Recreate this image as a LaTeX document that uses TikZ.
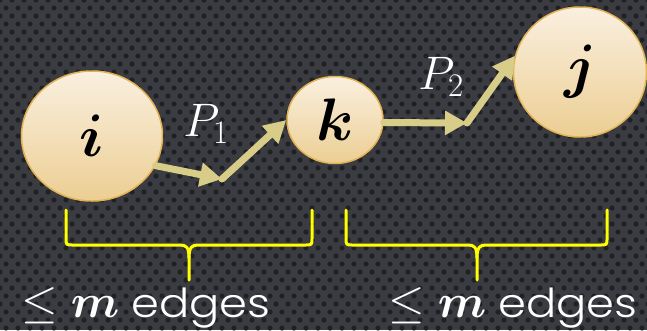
\RequirePackage{fix-cm}
\documentclass[tikz,border=0pt]{standalone}
\usepackage{fontspec}
\setsansfont{Poppins}[UprightFont={* Light},FakeStretch=1.12]
\usepackage{amsmath,bm}
\usetikzlibrary{arrows.meta,shapes.geometric}

\definecolor{bgc}{HTML}{3A3C41}
\definecolor{dotc}{HTML}{1F2124}
\definecolor{nodetop}{HTML}{FAF0E0}
\definecolor{nodebot}{HTML}{ECCE93}
\definecolor{nodeedge}{HTML}{E2B354}
\definecolor{arrc}{HTML}{D7CD88}
\definecolor{bracec}{HTML}{FFFF00}

\tikzset{
 vert/.style={ellipse, draw=nodeedge, line width=1.5pt, top color=nodetop, bottom color=nodebot, inner sep=0pt, font=\fontsize{60}{60}\selectfont},
 arr/.style={draw=arrc, line width=7pt, line cap=round, -{Triangle[length=22pt,width=23pt]}},
 brc/.style={draw=bracec, line width=3pt, line join=round, line cap=round},
 lab/.style={text=white, inner sep=0pt, font=\fontsize{47}{47}\selectfont},
 cnt/.style={text=white, font=\sffamily\fontsize{40}{40}\selectfont, inner sep=0pt}
}
\newcommand{\mathpart}{{\fontsize{47}{47}\selectfont$\leq\bm{m}$}}

\begin{document}
\begin{tikzpicture}[x=1pt,y=-1pt]
\useasboundingbox (0,0) rectangle (647,330);
\fill[bgc] (0,0) rectangle (647,330);
\foreach \r in {0,...,42} {
  \foreach \c in {0,...,54} {
    \fill[dotc] ({\c*12 + mod(\r,2)*6}, {\r*8}) circle[radius=2.6pt];
  }
}

\node[vert, minimum width=141pt, minimum height=130pt] (i) at (92,136) {$\bm{i}$};
\node[vert, minimum width=96pt, minimum height=87pt] (k) at (335,120) {$\bm{k}$};
\node[vert, minimum width=133pt, minimum height=130pt] (j) at (580,72) {$\bm{j}$};

\node[lab] (p1) at (206,124) {$P_1$};
\node[lab] (p2) at (441,77) {$P_2$};

\coordinate (e1) at (222,179);
\coordinate (e2) at (467,123);
\draw[arr] (i.-25) -- (e1);
\draw[arr] (e1) -- (k.west);
\draw[arr] (k.-3) -- (e2);
\draw[arr] (e2) -- (j.166);

% braces
\draw[brc] (66,210) -- (66,238) .. controls (66,245) .. (73,245) -- (180,245)
  .. controls (186,245) and (189,247) .. (189,258) -- (189,280);
\draw[brc] (189,258) .. controls (189,247) and (192,245) .. (198,245) -- (305,245)
  .. controls (312,245) .. (312,238) -- (312,210);
\draw[brc] (346,210) -- (346,238) .. controls (346,245) .. (353,245) -- (468,245)
  .. controls (474,245) and (477,247) .. (477,258) -- (477,280);
\draw[brc] (477,258) .. controls (477,247) and (480,245) .. (486,245) -- (600,245)
  .. controls (607,245) .. (607,238) -- (607,210);

\node[cnt, anchor=base west] (l1) at (21,317) {\mathpart\ edges};
\node[cnt, anchor=base west] (l2) at (388,317) {\mathpart\ edges};
\end{tikzpicture}
\end{document}
